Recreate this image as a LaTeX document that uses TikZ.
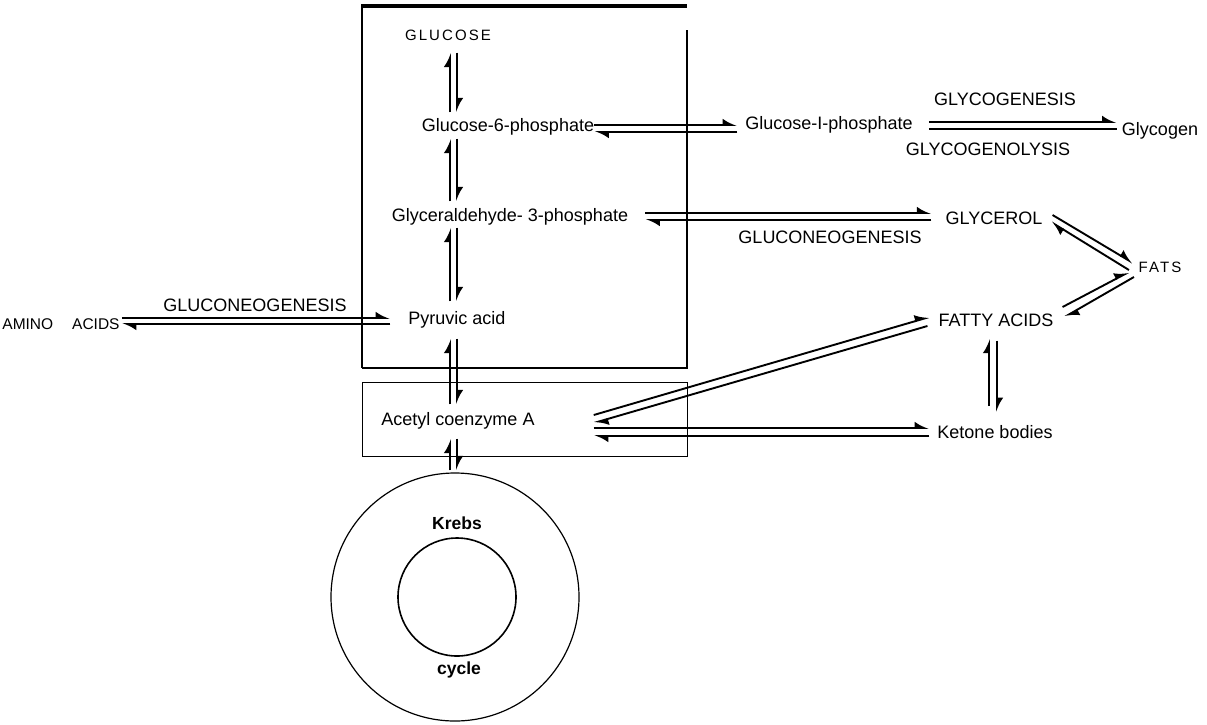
\documentclass[tikz,border=0pt]{standalone}
\usepackage{fontspec}
\setmainfont{Liberation Sans}
\newfontfamily\widefont[LetterSpace=14]{Liberation Sans}
\usetikzlibrary{arrows.meta,calc}

\tikzset{
  harp/.style={line width=1.9pt, -{Latex[left,length=12pt,width=13pt]}},
  plainline/.style={line width=1.9pt},
  chem/.style={inner sep=0pt, font=\fontsize{18}{21}\selectfont},
  spaced/.style={inner sep=0pt, font=\widefont\fontsize{15}{18}\selectfont},
  aminolbl/.style={inner sep=0pt, font=\fontsize{15.5}{18}\selectfont},
  proc/.style={inner sep=0pt, font=\fontsize{18}{21}\selectfont},
  krebslbl/.style={inner sep=0pt, font=\bfseries\fontsize{17.5}{20}\selectfont},
}

\begin{document}
\begin{tikzpicture}[x=1pt,y=-1pt]
  \useasboundingbox (0,0) rectangle (1207,724);

  % the two compartments
  \draw[line width=4pt] (362,6) -- (687,6);
  \draw[line width=2pt] (362,4) -- (362,368);
  \draw[line width=1.2pt] (687,30) -- (687,368) -- (362,368);
  \node[draw, line width=1.2pt, minimum width=325pt, minimum height=74pt,
        inner sep=0pt, anchor=north west] (acbox) at (362,382) {};

  % Krebs cycle rings
  \node[circle, draw, line width=1.2pt, minimum size=248pt, inner sep=0pt] (krebsout) at (455,597) {};
  \node[circle, draw, line width=1.6pt, minimum size=118pt, inner sep=0pt] (krebsin) at (457,597) {};
  \node[krebslbl] (krebs) at (457,523) {Krebs};
  \node[krebslbl] (cycle) at (459,670) {cycle};

  % metabolites
  \node[spaced] (glucose) at (448,35) {GLUCOSE};
  \node[chem] (g6p) at (508,127) {Glucose-6-phosphate};
  \node[chem] (g3p) at (510,217) {Glyceraldehyde- 3-phosphate};
  \node[chem] (pyr) at (457,320) {Pyruvic acid};
  \node[chem] (acetyl) at (458,421) {Acetyl coenzyme A};
  \node[chem] (g1p) at (829,125) {Glucose-I-phosphate};
  \node[chem] (glycogen) at (1160,131) {Glycogen};
  \node[chem] (glycerol) at (994,218) {GLYCEROL};
  \node[spaced] (fats) at (1160,267) {FATS};
  \node[chem] (fatty) at (996,320) {FATTY ACIDS};
  \node[chem] (ketone) at (995,432) {Ketone bodies};
  \node[aminolbl] (amino) at (61,324) {AMINO\hspace{19pt}ACIDS};

  % process names
  \node[proc] (genesis) at (1005,99) {GLYCOGENESIS};
  \node[proc] (lysis) at (988,149) {GLYCOGENOLYSIS};
  \node[proc] (neoA) at (255,305) {GLUCONEOGENESIS};
  \node[proc] (neoB) at (830,237) {GLUCONEOGENESIS};

  % main column
  \coordinate (axis) at (453.5,0);
  \foreach \a/\b/\ga/\gb in {glucose/g6p/12/6, g6p/g3p/3/7, g3p/pyr/2/10,
                             pyr/acetyl/10/8, acetyl/krebsout/9/2}{
    \draw[harp] ($(\b.north -| axis)+(-3.5,-\gb)$) -- ($(\a.south -| axis)+(-3.5,\ga)$);
    \draw[harp] ($(\a.south -| axis)+(3.5,\ga)$) -- ($(\b.north -| axis)+(3.5,-\gb)$);
  }

  % side branches
  \draw[harp] ($(g6p.east)+(0,-2)$) -- ($(g6p.east -| g1p.west)+(-8,-2)$);
  \draw[harp] ($(g6p.east -| g1p.west)+(-8,5)$) -- ($(g6p.east)+(0,5)$);

  \draw[harp] ($(g1p.east)+(16,-3)$) -- ($(g1p.east -| glycogen.west)+(-5,-3)$);
  \draw[plainline] ($(g1p.east)+(16,4)$) -- ($(g1p.east -| glycogen.west)+(-5,4)$);

  \draw[harp] ($(g3p.east)+(17,-4)$) -- ($(g3p.east -| glycerol.west)+(-14,-4)$);
  \draw[harp] ($(g3p.east -| glycerol.west)+(-14,3)$) -- ($(g3p.east)+(17,3)$);

  \draw[harp] ($(amino.east)+(2,-6)$) -- ($(amino.east -| pyr.west)+(-18,-6)$);
  \draw[harp] ($(amino.east -| pyr.west)+(-18,0)$) -- ($(amino.east)+(2,0)$);

  \draw[harp] ($(acetyl.east |- ketone.west)+(59,-4)$) -- ($(ketone.west)+(-8,-4)$);
  \draw[harp] ($(ketone.west)+(-8,4)$) -- ($(acetyl.east |- ketone.west)+(59,4)$);

  \draw[harp] ($(acetyl.east)+(59,-6)$) -- ($(fatty.west)+(-9,-3)$);
  \draw[harp] ($(fatty.west)+(-11,6)$) -- ($(acetyl.east)+(59,2)$);

  \draw[harp] ($(fatty.south |- ketone.north)+(-7,-19)$) -- ($(fatty.south)+(-7,12)$);
  \draw[harp] ($(fatty.south)+(1,14)$) -- ($(fatty.south |- ketone.north)+(1,-13)$);

  % fats
  \draw[harp] ($(glycerol.east)+(10,-3)$) -- ($(fats.west)+(-5.5,-4)$);
  \draw[harp] ($(fats.west)+(-9.5,3)$) -- ($(glycerol.east)+(8.5,4)$);
  \draw[harp] ($(fatty.east)+(9,-13)$) -- ($(fats.west)+(-9.5,5)$);
  \draw[harp] ($(fats.west)+(-4.5,10)$) -- ($(fatty.east)+(11,-3)$);
\end{tikzpicture}
\end{document}
